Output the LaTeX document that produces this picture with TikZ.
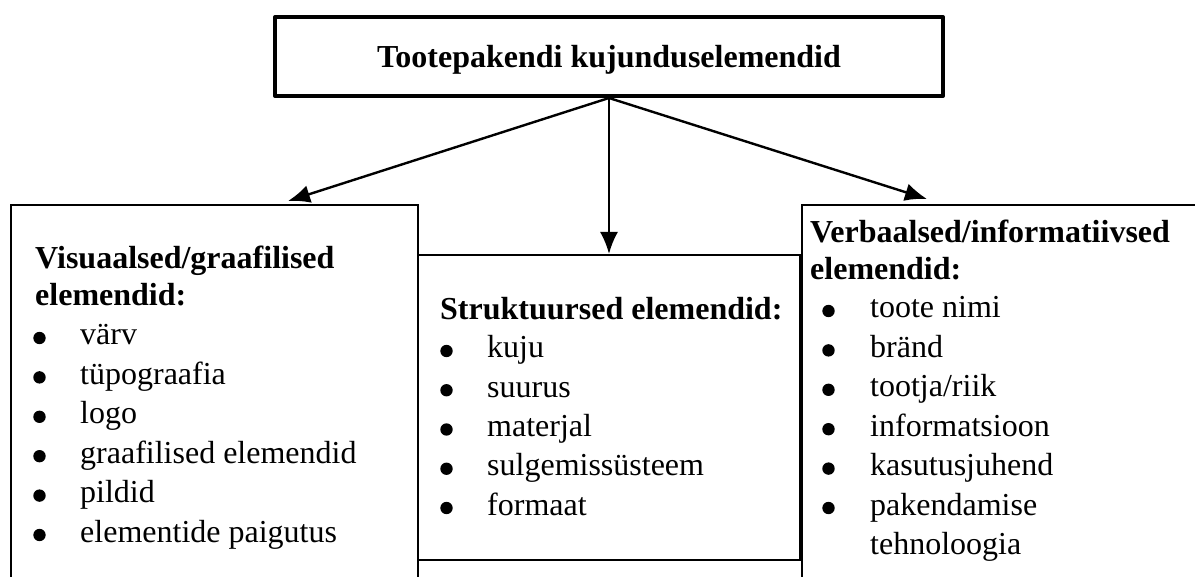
\documentclass[tikz,border=0pt]{standalone}
\usepackage{fontspec}
\setmainfont{Liberation Serif}
\usetikzlibrary{arrows.meta}
\begin{document}
\begin{tikzpicture}[x=1pt,y=-1pt,
  txt/.style={font=\fontsize{32}{39}\selectfont, inner sep=0pt, anchor=base west},
  hdr/.style={font=\fontsize{32}{39}\selectfont\bfseries, inner sep=0pt, anchor=base west},
  boxframe/.style={draw, line width=2pt, inner sep=0pt, rectangle},
  dot/.style={fill=black},
  arr/.style={line width=2.4pt, -{Latex[length=22pt,width=18pt]}}]
\clip (0,0) rectangle (1195,577);
\fill[white] (0,0) rectangle (1195,577);
% top box
\node[draw, line width=4pt, line join=round, minimum width=668pt, minimum height=79pt, inner sep=0pt,
      text height=23pt, text depth=0pt, font=\fontsize{32}{39}\selectfont\bfseries]
      (title) at (609,56.5) {Tootepakendi kujunduselemendid};
% frames
\node[boxframe, minimum width=407pt, minimum height=445pt] (left) at (214.5,427.5) {};
\node[boxframe, minimum width=448pt, minimum height=445pt] (right) at (1026,427.5) {};
\node[boxframe, minimum width=382pt, minimum height=305pt] (mid) at (609,407.5) {};
% arrow ends
\coordinate (lend) at (288,201);
\coordinate (rend) at (927,199);
\draw[arr] (title.south) -- (lend);
\draw[arr] (title.south) -- (mid.north);
\draw[arr] (title.south) -- (rend);
% left texts
\node[hdr] (lh1) at (35,269) {Visuaalsed/graafilised};
\node[hdr] (lh2) at (35,306) {elemendid:};
\foreach \t [count=\i] in {värv,tüpograafia,logo,graafilised elemendid,pildid,elementide paigutus}{
  \node[txt] (li\i) at (80,{345+39.4*(\i-1)}) {\t};
  \fill[dot] (39.5,{338+39.4*(\i-1)}) circle (6.2pt);}
% middle texts
\node[hdr] (mh) at (440,320) {Struktuursed elemendid:};
\foreach \t [count=\i] in {kuju,suurus,materjal,sulgemissüsteem,formaat}{
  \node[txt] (mi\i) at (487,{358+39.25*(\i-1)}) {\t};
  \fill[dot] (446.5,{351+39.25*(\i-1)}) circle (6.2pt);}
% right texts
\node[hdr] (rh1) at (810,243) {Verbaalsed/informatiivsed};
\node[hdr] (rh2) at (810,280) {elemendid:};
\foreach \t [count=\i] in {toote nimi,bränd,tootja/riik,informatsioon,kasutusjuhend,pakendamise}{
  \node[txt] (ri\i) at (870,{318+39.4*(\i-1)}) {\t};
  \fill[dot] (828.5,{311+39.4*(\i-1)}) circle (6.2pt);}
\node[txt] (ri7) at (870,554.4) {tehnoloogia};
\end{tikzpicture}
\end{document}
